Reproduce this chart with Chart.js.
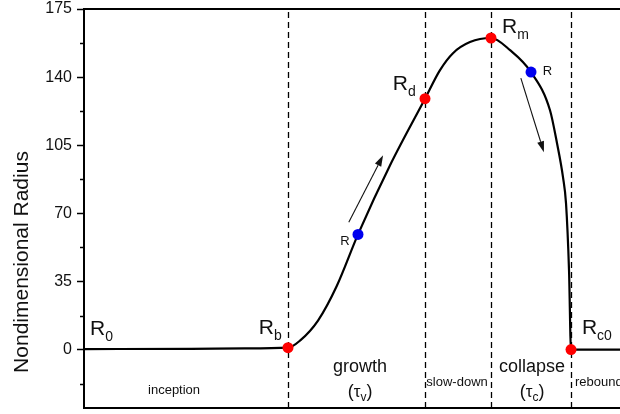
<!DOCTYPE html>
<html><head><meta charset="utf-8">
<script src="https://cdn.jsdelivr.net/npm/chart.js@4/dist/chart.umd.min.js"></script>
<style>html,body{margin:0;padding:0;background:#fff}#wrap{width:620px;height:414px}</style>
</head><body><div id="wrap"><canvas id="c" width="620" height="414"></canvas></div>
<script>
// ---- data (nondimensional time, nondimensional radius) ----
const curveX = [0, 20, 30, 38.06, 40.30, 43.66, 47.20, 51.12, 57.28, 63.62, 66.42, 68.84, 72.01, 75.93, 79.48, 83.40, 86.94, 88.25, 89.37, 89.93, 90.49, 90.86, 95, 100];
const curveY = [0.3, 0.4, 0.6, 1.0, 4.63, 14.93, 32.94, 59.19, 95.73, 128.9, 143.6, 152.3, 158.0, 160.1, 153.9, 142.6, 123.0, 106.0, 88.5, 75.1, 40.6, 0, 0, 0];
const redX = [38.06, 63.62, 75.93, 90.86];
const redY = [1.0, 128.9, 160.1, 0];
const blueX = [51.12, 83.40];
const blueY = [59.19, 142.6];
const phaseBounds = [38.06, 63.62, 75.93, 90.86];
const yMajorTicks = [0, 35, 70, 105, 140, 175];
const yMinorTicks = [-17.5, 17.5, 52.5, 87.5, 122.5, 157.5];
const arrowFromX = [49.4, 81.5];
const arrowFromY = [65.4, 139.5];
const arrowToX = [55.8, 85.8];
const arrowToY = [99.8, 101.4];
const pointLabelText = [['R','0'], ['R','b'], ['R','d'], ['R','m'], ['R','c0'], ['R',''], ['R','']];
const pointLabelX = [1.12, 32.6, 57.6, 78.0, 92.9, 47.8, 85.6];
const pointLabelY = [7.7, 8.2, 133.3, 162.6, 8.2, 53.5, 141.0];
const phaseText = ['inception', 'growth', 'slow-down', 'collapse', 'rebound'];
const phaseX = [16.8, 51.5, 69.6, 83.6, 91.6];
const phaseY = [-22.6, -11.3, -18.5, -11.3, -18.5];
const timeScaleText = [['τ','v'], ['τ','c']];
const timeScaleX = [51.5, 83.6];
const timeScaleY = [-24.2, -24.2];

const FONT = '"Liberation Sans", Arial, Helvetica, sans-serif';
const pts = (xs, ys) => xs.map((x, i) => ({x, y: ys[i]}));

function drawParts(ctx, px, py, parts, align) {
  let w = 0;
  parts.forEach(p => { ctx.font = p.size + 'px ' + FONT; w += ctx.measureText(p.t).width; });
  let cx = align === 'center' ? px - w / 2 : px;
  parts.forEach(p => {
    ctx.font = p.size + 'px ' + FONT;
    ctx.fillText(p.t, cx, py + (p.dy || 0));
    cx += ctx.measureText(p.t).width;
  });
}

function noPad(s) { s.paddingTop = 0; s.paddingBottom = 0; s.paddingLeft = 0; s.paddingRight = 0; }

const overlay = {
  id: 'overlay',
  beforeDatasetsDraw(chart) {
    const {ctx, chartArea: a, scales: {x, y}} = chart;
    ctx.save();
    ctx.strokeStyle = '#000';
    ctx.lineWidth = 1.3;
    ctx.setLineDash([6, 4]);
    phaseBounds.forEach(v => {
      const px = Math.round(x.getPixelForValue(v)) + 0.5;
      ctx.beginPath(); ctx.moveTo(px, a.top + 3); ctx.lineTo(px, a.bottom); ctx.stroke();
    });
    ctx.setLineDash([]);
    ctx.lineWidth = 1.5;
    yMinorTicks.forEach(v => {
      const py = Math.round(y.getPixelForValue(v)) + 0.5;
      ctx.beginPath(); ctx.moveTo(a.left - 4, py); ctx.lineTo(a.left, py); ctx.stroke();
    });
    ctx.restore();
  },
  afterDraw(chart) {
    const {ctx, scales: {x, y}} = chart;
    ctx.save();
    ctx.fillStyle = '#111';
    ctx.textBaseline = 'alphabetic';
    ctx.textAlign = 'left';
    // arrows
    ctx.strokeStyle = '#111'; ctx.lineWidth = 1.1;
    arrowFromX.forEach((_, i) => {
      const x0 = x.getPixelForValue(arrowFromX[i]), y0 = y.getPixelForValue(arrowFromY[i]);
      const x1 = x.getPixelForValue(arrowToX[i]), y1 = y.getPixelForValue(arrowToY[i]);
      const ang = Math.atan2(y1 - y0, x1 - x0), L = 11, W = 3.5;
      const bx = x1 - L * Math.cos(ang), by = y1 - L * Math.sin(ang);
      ctx.beginPath(); ctx.moveTo(x0, y0); ctx.lineTo(bx, by); ctx.stroke();
      ctx.beginPath(); ctx.moveTo(x1, y1);
      ctx.lineTo(bx + W * Math.sin(ang), by - W * Math.cos(ang));
      ctx.lineTo(bx - W * Math.sin(ang), by + W * Math.cos(ang));
      ctx.closePath(); ctx.fill();
    });
    // point labels
    pointLabelText.forEach((t, i) => {
      const big = t[1] !== '';
      const parts = big ? [{t: t[0], size: 21}, {t: t[1], size: 14, dy: 6}] : [{t: t[0], size: 13}];
      drawParts(ctx, x.getPixelForValue(pointLabelX[i]), y.getPixelForValue(pointLabelY[i]), parts, 'left');
    });
    // phase labels
    phaseText.forEach((t, i) => {
      const big = (t === 'growth' || t === 'collapse');
      const align = t === 'rebound' ? 'left' : 'center';
      drawParts(ctx, x.getPixelForValue(phaseX[i]), y.getPixelForValue(phaseY[i]), [{t, size: big ? 18 : 13}], align);
    });
    timeScaleText.forEach((t, i) => {
      drawParts(ctx, x.getPixelForValue(timeScaleX[i]), y.getPixelForValue(timeScaleY[i]),
        [{t: '(', size: 18}, {t: t[0], size: 17}, {t: t[1], size: 12, dy: 4}, {t: ')', size: 18}], 'center');
    });
    // y title
    ctx.translate(28, 262);
    ctx.rotate(-Math.PI / 2);
    ctx.textAlign = 'center';
    ctx.font = '21px ' + FONT;
    ctx.fillText('Nondimensional Radius', 0, 0);
    ctx.restore();
  }
};

new Chart(document.getElementById('c'), {
  type: 'line',
  data: {
    datasets: [
      {data: pts(curveX, curveY), borderColor: '#000', borderWidth: 2.2, pointRadius: 0,
       cubicInterpolationMode: 'monotone', fill: false, order: 3},
      {data: pts(redX, redY), showLine: false, pointRadius: 5.5, pointBackgroundColor: '#ff0000',
       pointBorderWidth: 0, order: 1},
      {data: pts(blueX, blueY), showLine: false, pointRadius: 5.5, pointBackgroundColor: '#0000ee',
       pointBorderWidth: 0, order: 2}
    ]
  },
  options: {
    responsive: false, animation: false,
    layout: {padding: 0, autoPadding: false},
    plugins: {legend: {display: false}, tooltip: {enabled: false}},
    scales: {
      x: {type: 'linear', position: 'bottom', min: 0, max: 100,
          ticks: {display: false}, grid: {display: false, drawTicks: false},
          border: {display: true, color: '#000', width: 2},
          afterFit(s) { s.height = 6; noPad(s); }},
      xTop: {type: 'linear', position: 'top', min: 0, max: 100,
          ticks: {display: false}, grid: {display: false, drawTicks: false},
          border: {display: true, color: '#000', width: 2},
          afterFit(s) { s.height = 9; noPad(s); }},
      y: {type: 'linear', min: -30, max: 175,
          afterBuildTicks(s) { s.ticks = yMajorTicks.map(v => ({value: v})); },
          ticks: {font: {family: FONT, size: 16}, color: '#111', padding: 5},
          grid: {drawOnChartArea: false, tickLength: 7, tickWidth: 1.5, tickColor: '#000'},
          border: {color: '#000', width: 2},
          afterFit(s) { s.width = 84; noPad(s); }}
    }
  },
  plugins: [overlay]
});
</script>
</body></html>
